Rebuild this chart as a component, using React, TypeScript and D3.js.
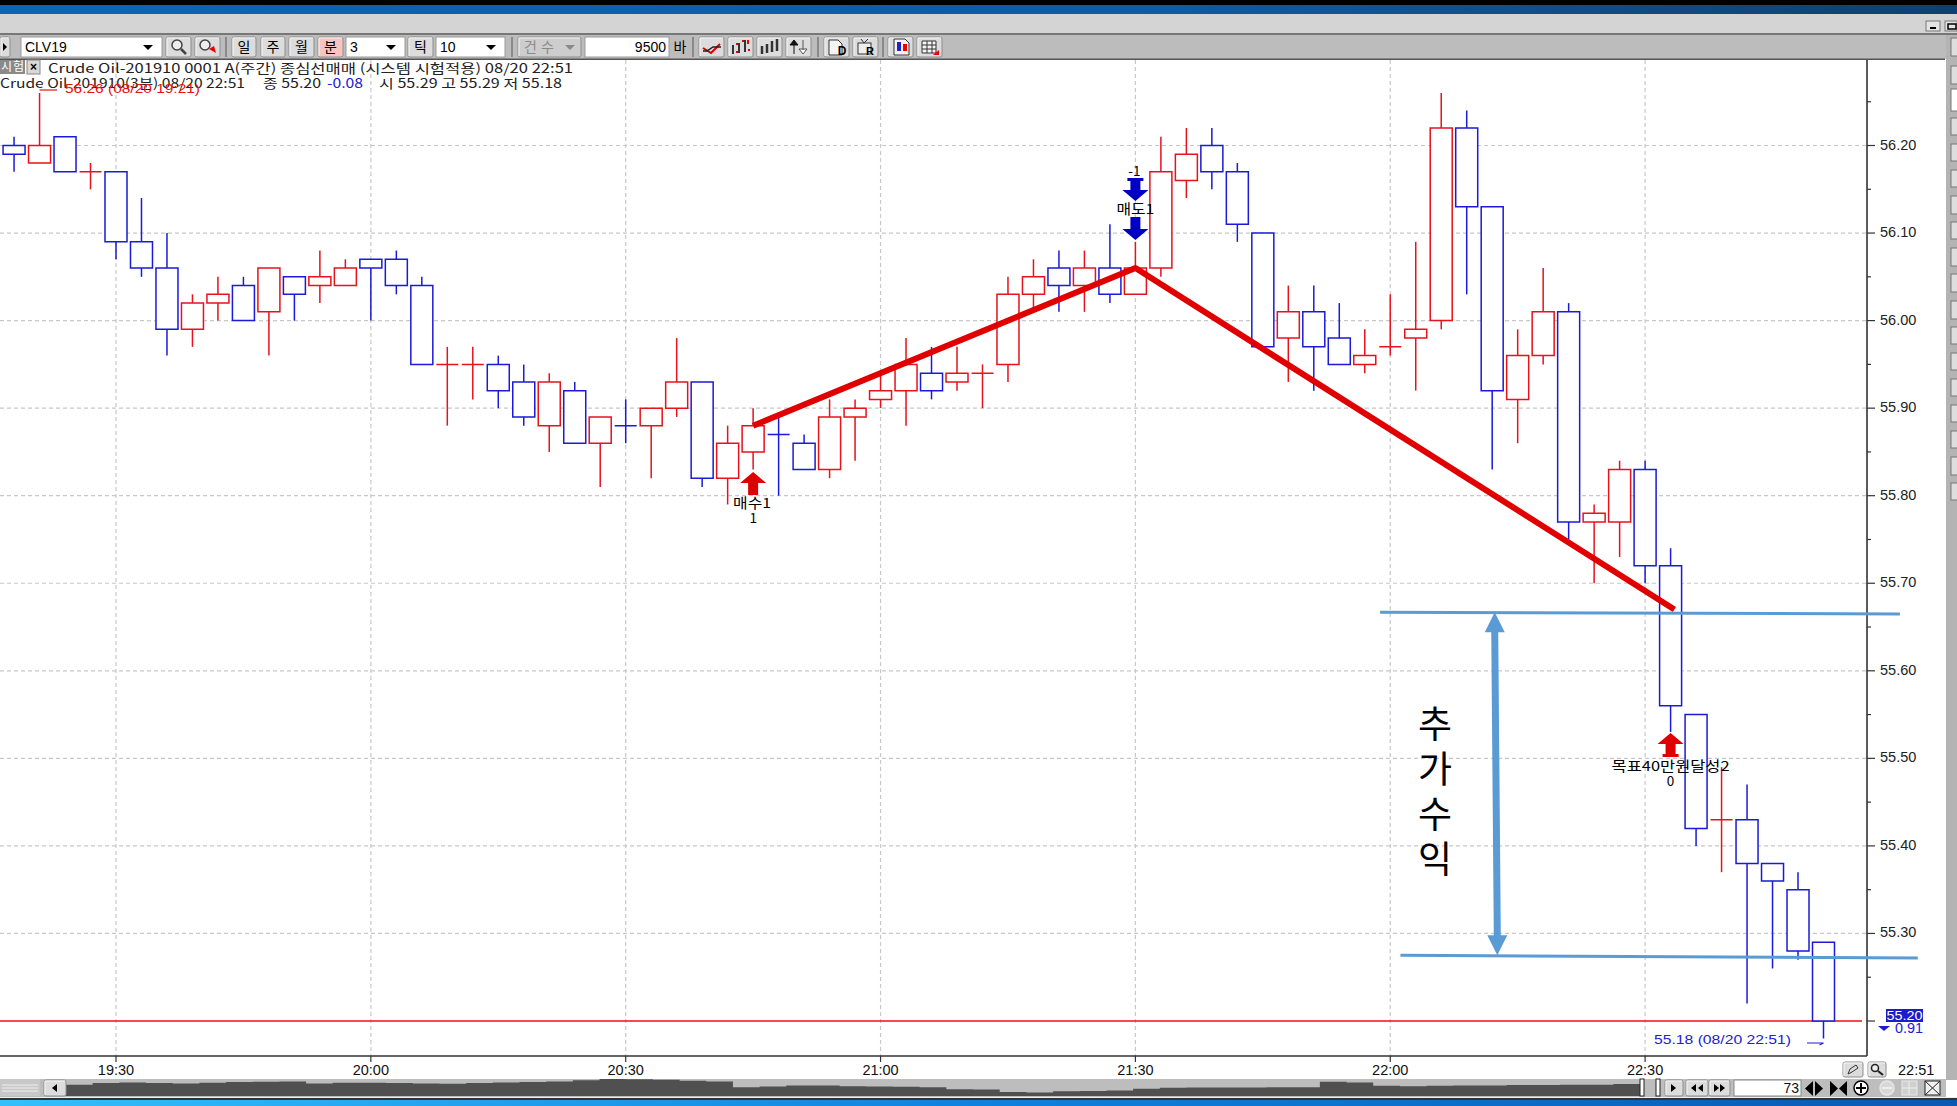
import React, { useEffect } from "react";
import * as d3 from "d3";

const W = 1957;
const H = 1106;

const opens = [56.20,56.18,56.21,56.17,56.17,56.09,56.06,55.99,56.02,56.04,56.01,56.05,56.04,56.04,56.07,56.07,56.04,55.95,55.95,55.95,55.93,55.88,55.92,55.86,55.88,55.88,55.90,55.93,55.82,55.85,55.87,55.86,55.83,55.89,55.91,55.92,55.94,55.93,55.94,55.95,56.03,56.06,56.04,56.06,56.03,56.06,56.16,56.20,56.17,56.10,55.98,56.01,55.98,55.95,55.97,55.98,56.00,56.22,56.13,55.91,55.96,56.01,55.77,55.77,55.83,55.72,55.55,55.43,55.43,55.38,55.35,55.29];
const highs = [56.21,56.26,56.21,56.18,56.17,56.14,56.10,56.03,56.05,56.05,56.06,56.05,56.08,56.07,56.07,56.08,56.05,55.97,55.97,55.96,55.95,55.94,55.93,55.89,55.91,55.90,55.98,55.93,55.88,55.90,55.89,55.87,55.91,55.91,55.94,55.98,55.97,55.97,55.95,56.05,56.07,56.08,56.08,56.11,56.09,56.21,56.22,56.22,56.18,56.10,56.04,56.04,56.02,55.99,56.03,56.09,56.26,56.24,56.13,55.99,56.06,56.02,55.79,55.84,55.84,55.74,55.55,55.49,55.47,55.38,55.37,55.29];
const lows = [56.17,56.18,56.17,56.15,56.07,56.05,55.96,55.97,56.00,56.00,55.96,56.00,56.02,56.04,56.00,56.03,55.95,55.88,55.91,55.90,55.88,55.85,55.86,55.81,55.86,55.82,55.89,55.81,55.79,55.83,55.80,55.83,55.82,55.84,55.90,55.88,55.91,55.92,55.90,55.93,56.01,56.01,56.01,56.02,56.03,56.05,56.14,56.15,56.09,55.97,55.93,55.92,55.95,55.94,55.96,55.92,55.99,56.03,55.83,55.86,55.95,55.75,55.70,55.73,55.70,55.53,55.40,55.37,55.22,55.26,55.27,55.18];
const closes = [56.19,56.20,56.17,56.17,56.09,56.06,55.99,56.02,56.03,56.00,56.06,56.03,56.05,56.06,56.06,56.04,55.95,55.95,55.95,55.92,55.89,55.93,55.86,55.89,55.88,55.90,55.93,55.82,55.86,55.88,55.87,55.83,55.89,55.90,55.92,55.95,55.92,55.94,55.94,56.03,56.05,56.04,56.06,56.03,56.06,56.17,56.19,56.17,56.11,55.97,56.01,55.97,55.95,55.96,55.97,55.99,56.22,56.13,55.92,55.96,56.01,55.77,55.78,55.83,55.72,55.56,55.42,55.43,55.38,55.36,55.28,55.20];
const blueDojiBars = [24, 30];

const priceTicks = [56.2,56.1,56.0,55.9,55.8,55.7,55.6,55.5,55.4,55.3,55.2];
const minorTicks = [56.25,56.15,56.05,55.95,55.85,55.75,55.65,55.55,55.45,55.35,55.25];
const timeBars = [4,14,24,34,44,54,64];
const timeLabels = ["19:30","20:00","20:30","21:00","21:30","22:00","22:30"];

const trendBars = [29,44,65.15];
const trendPrices = [55.88,56.06,55.67];
const upperLevelBars = [53.6,74];
const upperLevelPrices = [55.667,55.665];
const lowerLevelBars = [54.4,74.7];
const lowerLevelPrices = [55.275,55.272];
const profitArrowBars = [58.1,58.2];
const profitArrowPrices = [55.667,55.275];
const profitChars = ["추","가","수","익"];

const overview = [33,38,40,38,37,39,41,42,43,37,39,39,38,37,36,38,40,41,43,46,50,49,48,45,43,26,28,31,31,29,28,27,26,20,19,12,10,14,15,16,21,24,25,25,25,26,26,42,40,30,29,30,31,31,32,32,33,33,35,38];

const RED = "#e6121c";
const BLUE = "#1a1ad8";
const KR = "'Noto Sans CJK KR','Noto Sans',sans-serif";
const LAT = "'Liberation Sans',Arial,sans-serif";

const x = d3.scaleLinear().domain([4,71]).range([116,1823.5]);
const y = d3.scaleLinear().domain([56.2,55.2]).range([145.5,1021]);
const ovX = d3.scaleLinear().domain([0,overview.length-1]).range([66,1640]);
const ovY = d3.scaleLinear().domain([0,50]).range([1096,1079]);

const CHART_TOP = 60;
const CHART_BOTTOM = 1056;
const AXIS_X = 1867;
const BODY = 22;

const lineGen = d3.line<[number,number]>().x(d=>x(d[0])).y(d=>y(d[1]));
const pair = (a:number[],b:number[]) => a.map((v,i)=>[v,b[i]] as [number,number]);

function Btn({x0,x1,y0=37,y1=57,fill="#dcdcdc",children}:{x0:number;x1:number;y0?:number;y1?:number;fill?:string;children?:any}){
  return <g>
    <rect x={x0} y={y0} width={x1-x0} height={y1-y0} rx={2} fill={fill} stroke="#8e8e8e" strokeWidth={1}/>
    <path d={`M${x0+1} ${y1-1}V${y0+1}H${x1-1}`} fill="none" stroke="#f6f6f6" strokeWidth={1}/>
    {children}
  </g>;
}
function Combo({x0,x1,label,align="start",arrow=true,color="#000"}:{x0:number;x1:number;label:string;align?:string;arrow?:boolean;color?:string}){
  return <g>
    <rect x={x0} y={37} width={x1-x0} height={20} fill="#fff" stroke="#9a9a9a"/>
    <text x={align==="end"?x1-3:x0+4} y={52} textAnchor={align as any} fontFamily={LAT} fontSize={14} fill={color}>{label}</text>
    {arrow && <path d={`M${x1-19} 45h10l-5 5z`} fill="#000"/>}
  </g>;
}
function Big({x0,x1,t,fill}:{x0:number;x1:number;t:string;fill?:string}){
  return <Btn x0={x0} x1={x1} fill={fill}>
    <text x={(x0+x1)/2} y={52} textAnchor="middle" fontFamily={KR} fontSize={14}>{t}</text>
  </Btn>;
}
function Arrow({cx,tip,base,up,color,serif}:{cx:number;tip:number;base:number;up:boolean;color:string;serif?:boolean}){
  const s = up?1:-1;
  const neck = tip + s*11;
  const p = d3.path();
  p.moveTo(cx,tip); p.lineTo(cx+13,neck); p.lineTo(cx+5,neck); p.lineTo(cx+5,base);
  p.lineTo(cx-5,base); p.lineTo(cx-5,neck); p.lineTo(cx-13,neck); p.closePath();
  return <g>
    <path d={p.toString()} fill={color}/>
    {serif && <rect x={cx-8} y={up?base-3:base} width={16} height={3} fill={color}/>}
  </g>;
}
function Label({x:lx,y:ly,t,len}:{x:number;y:number;t:string;len?:number}){
  return <text x={lx} y={ly} textAnchor="middle" dominantBaseline="central" fontFamily={KR} fontSize={13.5} fill="#000" textLength={len} lengthAdjust={len?"spacingAndGlyphs":undefined}>{t}</text>;
}

const panelButtons = [[38,56],[66,84],[89,111],[118,135],[144,161],[170,187],[196,214],[222,239],[248,266],[274,292],[301,319],[327,344],[353,370],[379,396],[405,422],[431,448],[457,475],[483,500]];

export default function App(){
  useEffect(()=>{document.body.style.margin="0";document.body.style.background="#fff";},[]);

  const area = d3.area<number>().x((_,i)=>ovX(i)).y0(1096).y1(d=>ovY(d)).curve(d3.curveStepAfter);

  const candles = opens.map((o,i)=>{
    const c = closes[i];
    const isBlue = c<o || (c===o && blueDojiBars.includes(i));
    const color = isBlue?BLUE:RED;
    const cx = x(i);
    const top = y(Math.max(o,c)), bot = y(Math.min(o,c));
    const b = d3.path();
    b.moveTo(cx-BODY/2,top); b.lineTo(cx+BODY/2,top); b.lineTo(cx+BODY/2,bot); b.lineTo(cx-BODY/2,bot); b.closePath();
    return <g key={i}>
      <line x1={cx} x2={cx} y1={y(highs[i])} y2={y(lows[i])} stroke={color} strokeWidth={1.5}/>
      <path d={b.toString()} fill="#fff" stroke={color} strokeWidth={1.5}/>
    </g>;
  });

  return (
    <svg width={W} height={H} viewBox={`0 0 ${W} ${H}`} style={{display:"block",position:"absolute",left:0,top:0}}>
      <defs>
        <linearGradient id="bot" x1="0" x2="1" y1="0" y2="0">
          <stop offset="0" stopColor="#35bffc"/><stop offset="0.5" stopColor="#0c82e2"/><stop offset="1" stopColor="#0a58b4"/>
        </linearGradient>
        <linearGradient id="top" x1="0" x2="1" y1="0" y2="0">
          <stop offset="0" stopColor="#0a66b4"/><stop offset="0.6" stopColor="#0a5ca6"/><stop offset="1" stopColor="#123e72"/>
        </linearGradient>
      </defs>
      <rect width={W} height={H} fill="#fff"/>

      {/* window chrome */}
      <rect width={W} height={5} fill="#000"/>
      <rect y={5} width={W} height={9} fill="url(#top)"/>
      <rect y={14} width={W} height={19} fill="#d4d4d4"/>
      <rect y={33} width={W} height={2} fill="#777"/>
      <rect y={35} width={W} height={24} fill="#bcbcbc"/>
      <rect y={58.5} width={1945} height={1.5} fill="#555"/>
      <rect x={1926} y={21} width={14} height={10} fill="#e4e4e4" stroke="#777"/>
      <rect x={1930} y={27} width={6} height={2} fill="#000"/>
      <rect x={1945} y={21} width={12} height={10} fill="#e4e4e4" stroke="#777"/>
      <rect x={1948} y={24} width={8} height={5} fill="none" stroke="#000" strokeWidth={1.5}/>

      {/* toolbar */}
      <Btn x0={0} x1={10}><path d="M3 43l4 4-4 4z" fill="#000"/></Btn>
      <Combo x0={21} x1={162} label="CLV19"/>
      <Btn x0={166} x1={191}><circle cx={177} cy={45} r={5} fill="#eee" stroke="#444" strokeWidth={1.5}/><line x1={181} y1={49} x2={186} y2={54} stroke="#444" strokeWidth={2.5}/></Btn>
      <Btn x0={195} x1={220}><circle cx={205} cy={45} r={5} fill="#eee" stroke="#444" strokeWidth={1.5}/><path d="M209 49l7 4-2-7z" fill="#e00"/></Btn>
      <rect x={225} y={37} width={2} height={20} fill="#8a8a8a"/>
      <Big x0={232} x1={256} t="일"/>
      <Big x0={261} x1={285} t="주"/>
      <Big x0={289} x1={314} t="월"/>
      <Big x0={318} x1={343} t="분" fill="#f8c4c0"/>
      <Combo x0={346} x1={405} label="3"/>
      <Big x0={408} x1={433} t="틱"/>
      <Combo x0={436} x1={505} label="10"/>
      <rect x={511} y={37} width={2} height={20} fill="#8a8a8a"/>
      <Btn x0={518} x1={581} fill="#cdcdcd">
        <text x={524} y={52} fontFamily={KR} fontSize={14} fill="#8a8a8a" textLength={30}>건수</text>
        <path d="M565 45h10l-5 5z" fill="#8a8a8a"/>
      </Btn>
      <Combo x0={585} x1={669} label="9500" align="end" arrow={false}/>
      <text x={680} y={52} textAnchor="middle" fontFamily={KR} fontSize={14}>바</text>
      <rect x={692} y={37} width={2} height={20} fill="#8a8a8a"/>
      <Btn x0={699} x1={724}><path d="M703 48l8 5 9-9" fill="none" stroke="#d80000" strokeWidth={2}/><path d="M703 51h4l6-4h8" fill="none" stroke="#222" strokeWidth={1.5}/></Btn>
      <Btn x0={728} x1={753}>
        <path d="M733 45v9M739 43v10M745 40v12" stroke="#333" strokeWidth={2} fill="none"/>
        <path d="M736 44h2M742 41h2M748 40v4M748 50h2M736 52h2" stroke="#e00" strokeWidth={2} fill="none"/>
      </Btn>
      <Btn x0={757} x1={782}><path d="M762 46v8M767 44v9M772 41v11M777 39v12" stroke="#333" strokeWidth={2.5} fill="none"/></Btn>
      <Btn x0={786} x1={811}><path d="M794 54v-10M790 45l4-5 4 5z" stroke="#111" fill="#111"/><path d="M803 40v10M799 49l4 5 4-5z" stroke="#555" fill="#fff"/></Btn>
      <rect x={817} y={37} width={2} height={20} fill="#8a8a8a"/>
      <Btn x0={824} x1={849}><path d="M829 40h9l4 4v11h-13z" fill="#f4f4f4" stroke="#333"/><text x={842} y={55} textAnchor="middle" fontSize={12} fontWeight={700} fontFamily={LAT}>D</text></Btn>
      <Btn x0={853} x1={878}><rect x={858} y={43} width={13} height={11} fill="#eee" stroke="#333"/><path d="M861 39l3 4 4-4" fill="none" stroke="#333"/><text x={870} y={55} textAnchor="middle" fontSize={11} fontWeight={700} fontFamily={LAT}>R</text></Btn>
      <rect x={882} y={37} width={2} height={20} fill="#8a8a8a"/>
      <Btn x0={888} x1={913}><path d="M894 39h11l4 4v12h-15z" fill="#f4f4f4" stroke="#333"/><rect x={897} y={42} width={4} height={9} fill="#2020d0"/><rect x={903} y={44} width={4} height={7} fill="#e00"/></Btn>
      <Btn x0={917} x1={942}><path d="M922 41h14v12h-14zM922 45h14M922 49h14M927 41v12M932 41v12" fill="#f4f4f4" stroke="#333"/><path d="M939 50v5h-6z" fill="#e00"/></Btn>

      {/* right panel */}
      <rect x={1946} y={35} width={11} height={1045} fill="#b4b4b4"/>
      {panelButtons.map((b,i)=>(
        <rect key={i} x={1951} y={b[0]} width={8} height={b[1]-b[0]} fill={i===2?"#fff":"#dedede"} stroke="#777"/>
      ))}

      {/* grid */}
      {priceTicks.map((p,i)=> p===55.2 ? null : (
        <line key={i} x1={0} x2={AXIS_X} y1={y(p)} y2={y(p)} stroke="#c8c8c8" strokeWidth={1.2} strokeDasharray="4 3"/>
      ))}
      {timeBars.map((b,i)=>(
        <line key={i} x1={x(b)} x2={x(b)} y1={CHART_TOP} y2={CHART_BOTTOM} stroke="#c8c8c8" strokeWidth={1.2} strokeDasharray="4 3"/>
      ))}

      {/* current price line */}
      <line x1={0} x2={AXIS_X-5} y1={y(closes[closes.length-1])} y2={y(closes[closes.length-1])} stroke="#f01010" strokeWidth={1.4}/>

      {candles}

      {/* axes */}
      <line x1={AXIS_X} x2={AXIS_X} y1={CHART_TOP} y2={CHART_BOTTOM} stroke="#333" strokeWidth={1.6}/>
      <line x1={0} x2={AXIS_X} y1={CHART_BOTTOM} y2={CHART_BOTTOM} stroke="#333" strokeWidth={1.6}/>
      {priceTicks.map((p,i)=>(
        <g key={i}>
          <line x1={AXIS_X} x2={AXIS_X+8} y1={y(p)} y2={y(p)} stroke="#333" strokeWidth={1.2}/>
          {p!==55.2 && <text x={AXIS_X+13} y={y(p)-1} dominantBaseline="central" fontFamily={LAT} fontSize={14.5} fill="#222">{d3.format(".2f")(p)}</text>}
        </g>
      ))}
      {minorTicks.map((p,i)=>(
        <line key={i} x1={AXIS_X} x2={AXIS_X+4} y1={y(p)} y2={y(p)} stroke="#333" strokeWidth={1.2}/>
      ))}
      {timeBars.map((b,i)=>(
        <g key={i}>
          <line x1={x(b)} x2={x(b)} y1={CHART_BOTTOM} y2={CHART_BOTTOM+6} stroke="#333" strokeWidth={1.2}/>
          <text x={x(b)} y={1070} textAnchor="middle" dominantBaseline="central" fontFamily={LAT} fontSize={14.5} fill="#111">{timeLabels[i]}</text>
        </g>
      ))}
      <text x={1898} y={1070} dominantBaseline="central" fontFamily={LAT} fontSize={14.5} fill="#111">22:51</text>
      <Btn x0={1843} x1={1863} y0={1062} y1={1077}><path d="M1848 1074l2-5 6-4 2 3-6 4z" fill="none" stroke="#333"/></Btn>
      <Btn x0={1868} x1={1886} y0={1062} y1={1077}><circle cx={1875} cy={1068} r={3.5} fill="#eee" stroke="#222" strokeWidth={1.5}/><line x1={1878} y1={1071} x2={1883} y2={1075} stroke="#222" strokeWidth={2.2}/></Btn>

      {/* header text */}
      <rect x={0} y={60} width={25} height={14} fill="#8a8a8a"/>
      <text x={1} y={71} fontFamily={KR} fontSize={12} fill="#fff" textLength={23}>시험</text>
      <rect x={27} y={60} width={13} height={14} fill="#d8d8d8" stroke="#888"/>
      <text x={33.5} y={71} textAnchor="middle" fontFamily={LAT} fontSize={12} fontWeight={700}>×</text>
      <text x={48} y={67.5} dominantBaseline="central" fontFamily={KR} fontSize={13} fill="#222" textLength={525} lengthAdjust="spacingAndGlyphs">Crude Oil-201910 0001 A(주간) 종심선매매 (시스템 시험적용) 08/20 22:51</text>
      <text x={0} y={82} dominantBaseline="central" fontFamily={KR} fontSize={13} fill="#222" textLength={245} lengthAdjust="spacingAndGlyphs">Crude Oil-201910(3분) 08/20 22:51</text>
      <text x={263} y={82} dominantBaseline="central" fontFamily={KR} fontSize={13} fill="#222" textLength={58} lengthAdjust="spacingAndGlyphs">종 55.20</text>
      <text x={327} y={82} dominantBaseline="central" fontFamily={KR} fontSize={13} fill="#2020d8" textLength={36} lengthAdjust="spacingAndGlyphs">-0.08</text>
      <text x={379} y={82} dominantBaseline="central" fontFamily={KR} fontSize={13} fill="#222" textLength={183} lengthAdjust="spacingAndGlyphs">시 55.29 고 55.29 저 55.18</text>

      {/* high / low notes */}
      <path d={`M${x(1)} 90H57`} fill="none" stroke="#e81010" strokeWidth={1.2}/>
      <text x={65} y={88} dominantBaseline="central" fontFamily={LAT} fontSize={13} fill="#e81010" textLength={135} lengthAdjust="spacingAndGlyphs">56.26 (08/20 19:21)</text>
      <text x={1654} y={1039} dominantBaseline="central" fontFamily={LAT} fontSize={13.5} fill="#2020d8" textLength={137} lengthAdjust="spacingAndGlyphs">55.18 (08/20 22:51)</text>
      <path d={`M1807 1043H${x(71)}l-4 2`} fill="none" stroke="#2020d8" strokeWidth={1.2}/>

      {/* last price tag */}
      <rect x={1886} y={1009} width={37} height={13} fill="#1c1cc8"/>
      <text x={1904.5} y={1015.5} textAnchor="middle" dominantBaseline="central" fontFamily={LAT} fontSize={13.5} fill="#fff" textLength={36} lengthAdjust="spacingAndGlyphs">55.20</text>
      <path d="M1878 1026h12l-6 5z" fill="#1c1cc8"/>
      <text x={1895} y={1028} dominantBaseline="central" fontFamily={LAT} fontSize={14} fill="#2020d8" textLength={28} lengthAdjust="spacingAndGlyphs">0.91</text>

      {/* signals */}
      <Arrow cx={x(29)} tip={472} base={495} up color="#e00000"/>
      <Label x={x(29)-1} y={502} t="매수1" len={38}/>
      <Label x={x(29)} y={517} t="1"/>
      <Label x={x(44)-1} y={170} t="-1"/>
      <Arrow cx={x(44)} tip={201} base={178} up={false} color="#0000c4" serif/>
      <Label x={x(44)} y={208} t="매도1" len={38}/>
      <Arrow cx={x(44)} tip={240} base={217} up={false} color="#0000c4"/>
      <Arrow cx={x(65)} tip={733} base={757} up color="#e00000" serif/>
      <Label x={x(65)} y={765} t="목표40만원달성2" len={118}/>
      <Label x={x(65)} y={780} t="0"/>

      {/* trend lines */}
      <path d={lineGen(pair(trendBars,trendPrices))!} fill="none" stroke="#e00000" strokeWidth={6} strokeLinejoin="round"/>
      <path d={lineGen(pair(upperLevelBars,upperLevelPrices))!} fill="none" stroke="#5b9bd5" strokeWidth={3}/>
      <path d={lineGen(pair(lowerLevelBars,lowerLevelPrices))!} fill="none" stroke="#5b9bd5" strokeWidth={3}/>
      {(()=>{
        const x0=x(profitArrowBars[0]), x1=x(profitArrowBars[1]);
        const y0=y(profitArrowPrices[0]), y1=y(profitArrowPrices[1]);
        const p=d3.path();
        p.moveTo(x0,y0); p.lineTo(x0+10,y0+20); p.lineTo(x0+3.5,y0+20); p.lineTo(x1+3.5,y1-20);
        p.lineTo(x1+10,y1-20); p.lineTo(x1,y1); p.lineTo(x1-10,y1-20); p.lineTo(x1-3.5,y1-20);
        p.lineTo(x0-3.5,y0+20); p.lineTo(x0-10,y0+20); p.closePath();
        return <path d={p.toString()} fill="#5b9bd5"/>;
      })()}
      {profitChars.map((c,i)=>(
        <text key={i} x={1435} y={722+i*45} textAnchor="middle" dominantBaseline="central" fontFamily={KR} fontSize={37} fill="#000">{c}</text>
      ))}

      {/* bottom scroller */}
      <rect x={0} y={1079} width={1946} height={18} fill="#bdbdbd"/>
      <path d={area(overview)!} fill="#505050"/>
      <rect x={0} y={1079} width={40} height={17} fill="#c8c8c8"/>
      <path d="M2 1085h36M2 1088h36M2 1091h36" stroke="#efefef" strokeWidth={1}/>
      <Btn x0={44} x1={66} y0={1080} y1={1096}><path d="M57 1084l-5 4 5 4z" fill="#000"/></Btn>
      <rect x={1640} y={1079} width={4} height={17} fill="#fff" stroke="#222"/>
      <rect x={1656} y={1079} width={4} height={17} fill="#fff" stroke="#222"/>
      <Btn x0={1665} x1={1683} y0={1080} y1={1096}><path d="M1671 1084l5 4-5 4z" fill="#000"/></Btn>
      <Btn x0={1686} x1={1708} y0={1080} y1={1096}><path d="M1696 1084l-5 4 5 4zM1703 1084l-5 4 5 4z" fill="#000"/></Btn>
      <Btn x0={1709} x1={1730} y0={1080} y1={1096}><path d="M1714 1084l5 4-5 4zM1720 1084l5 4-5 4z" fill="#000"/></Btn>
      <rect x={1734} y={1080} width={67} height={16} fill="#fff" stroke="#888"/>
      <text x={1799} y={1093} textAnchor="end" fontFamily={LAT} fontSize={14} fill="#111">73</text>
      <path d="M1813 1081l-8 7.5 8 7.5zM1815 1081l8 7.5-8 7.5z" fill="#000"/>
      <path d="M1830 1081l8 7.5-8 7.5zM1847 1081l-8 7.5 8 7.5z" fill="#000"/>
      <circle cx={1861} cy={1088} r={7} fill="#fff" stroke="#000" strokeWidth={1.5}/>
      <path d="M1856 1088h10M1861 1083v10" stroke="#000" strokeWidth={2}/>
      <circle cx={1887} cy={1088} r={7} fill="#d8d8d8" stroke="#e8e8e8" strokeWidth={1.5}/>
      <path d="M1882 1088h10" stroke="#eee" strokeWidth={2}/>
      <rect x={1902} y={1081} width={15} height={14} fill="#d0d0d0" stroke="#e8e8e8"/>
      <path d="M1902 1088h15M1909 1081v14" stroke="#eee"/>
      <rect x={1925} y={1081} width={15} height={14} fill="#f0f0f0" stroke="#222"/>
      <path d="M1925 1081l15 14M1940 1081l-15 14" stroke="#222"/>

      {/* taskbar */}
      <rect y={1097} width={W} height={1} fill="#eee"/>
      <rect y={1098} width={W} height={2} fill="#333"/>
      <rect y={1100} width={W} height={6} fill="url(#bot)"/>
    </svg>
  );
}
